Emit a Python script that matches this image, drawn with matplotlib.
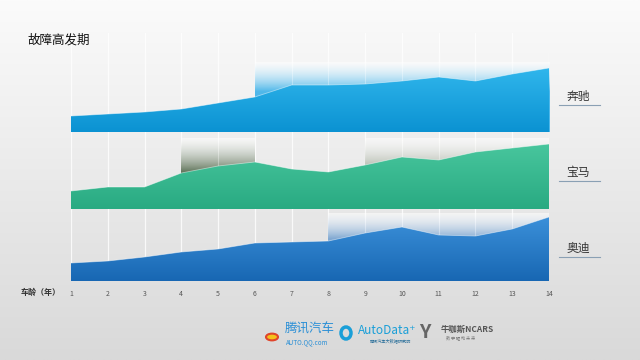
import numpy as np
import matplotlib
matplotlib.use("Agg")
import matplotlib.pyplot as plt
from matplotlib.colors import to_rgb

plt.rcParams['font.family'] = ['Noto Sans CJK SC', 'DejaVu Sans']

# ---------------- data ----------------
years = [1, 2, 3, 4, 5, 6, 7, 8, 9, 10, 11, 12, 13, 14]
brands = ["奔驰", "宝马", "奥迪"]
benz = [16, 18, 20, 23, 29, 35, 47, 47, 48, 51, 55, 51, 58, 64]
bmw = [18, 22, 22, 36, 43, 47, 40, 37, 44, 52, 49, 57, 61, 65]
audi = [18, 20, 24, 29, 32, 38, 39, 40, 48, 54, 46, 45, 52, 64]
series = [benz, bmw, audi]
# high-failure periods (start year, end year) per brand
peaks = [[(6, 14)], [(4, 6), (9, 14)], [(8, 14)]]
title = "故障高发期"
xlabel = "车龄（年）"

# ---------------- style ----------------
W, H = 640, 360
fig = plt.figure(figsize=(6.4, 3.6), dpi=100)

def rect(x0, y0, x1, y1):
    return [x0 / W, 1 - y1 / H, (x1 - x0) / W, (y1 - y0) / H]

# background gradient
bg = fig.add_axes([0, 0, 1, 1], zorder=-10)
g = np.linspace(0, 1, 256)[:, None]
top_c = np.array(to_rgb("#fbfbfb"))
bot_c = np.array(to_rgb("#d9d9d9"))
img = top_c[None, None, :] * (1 - g[..., None]) + bot_c[None, None, :] * g[..., None]
img = np.repeat(img, 2, axis=1)
bg.imshow(img, aspect='auto', extent=[0, 1, 0, 1])
bg.axis('off')

X0, X1 = 71, 549
# vertical grid lines
gax = fig.add_axes(rect(X0, 33, X1, 281), zorder=-5)
gax.set_xlim(1, 14)
gax.set_ylim(0, 1)
for yr in years:
    gax.axvline(yr, color="white", lw=0.9, alpha=0.8)
gax.axis('off')
gax.patch.set_alpha(0)

panels = [(62, 132), (138, 209), (213, 281)]
fills = [("#30b6ec", "#0b92d2"), ("#48c69d", "#29aa82"), ("#3b90d9", "#1867b3")]
hl_colors = [["#4fb8ea"], ["#556b4f", "#a9b0a2"], ["#7fa8d2"]]
hl_depth = [[0.42], [0.5, 0.45], [0.38]]
label_y = [96, 172, 248]

for i, (py0, py1) in enumerate(panels):
    ax = fig.add_axes(rect(X0, py0, X1, py1))
    ymax = py1 - py0
    ax.set_xlim(1, 14)
    ax.set_ylim(0, ymax)
    ax.patch.set_alpha(0)
    ax.axis('off')
    # highlight gradients (white at top, coloured toward the area)
    for (a, b), hc, dp in zip(peaks[i], hl_colors[i], hl_depth[i]):
        c = np.array(to_rgb(hc))
        n = 200
        t = np.clip(np.linspace(0, 1, n) / dp, 0, 1) ** 1.2
        arr = np.zeros((n, 2, 4))
        arr[..., :3] = (np.ones(3) * (1 - t[:, None]) + c * t[:, None])[:, None, :]
        arr[..., 3] = (0.55 + 0.45 * t)[:, None]
        ax.imshow(arr, extent=[a, b, 0, ymax], aspect='auto', origin='upper', zorder=1)
        for yr in years:
            if a < yr < b:
                ax.axvline(yr, color="white", lw=0.8, alpha=0.3, zorder=1.5)
    # area with vertical gradient
    poly = ax.fill_between(years, 0, series[i], color='none', lw=0)
    ct = np.array(to_rgb(fills[i][0]))
    cb = np.array(to_rgb(fills[i][1]))
    gg = np.linspace(0, 1, 200)[:, None, None]
    garr = ct * (1 - gg) + cb * gg
    garr = np.repeat(garr, 2, axis=1)
    im = ax.imshow(garr, extent=[1, 14, 0, max(series[i])], aspect='auto', origin='upper', zorder=2)
    im.set_clip_path(poly.get_paths()[0], transform=ax.transData)
    ax.plot(years, series[i], color="white", lw=0.6, alpha=0.5, zorder=3)
    # brand label
    fig.text(578 / W, 1 - label_y[i] / H, brands[i], ha='center', va='center',
             fontsize=8.5, color="#333333")
    fig.add_artist(plt.Line2D([559 / W, 600 / W], [1 - (label_y[i] + 9) / H] * 2,
                              color="#8aa0b4", lw=0.8))

# x tick labels
tax = fig.add_axes(rect(X0, 281, X1, 282))
tax.set_xlim(1, 14)
tax.set_yticks([])
tax.set_xticks(years)
tax.set_xticklabels([str(v) for v in years], fontsize=5, color="#555555")
tax.tick_params(axis='x', length=0, pad=6)
for s in tax.spines.values():
    s.set_visible(False)
tax.patch.set_alpha(0)

fig.text(41 / W, 1 - 292 / H, xlabel, ha='center', va='center', fontsize=5.8,
         color="#333333", fontweight='bold')
fig.text(27 / W, 1 - 40 / H, title, ha='left', va='center', fontsize=9, color="#111111")

# logos (approximated as text)
fig.text(285 / W, 1 - 329 / H, "腾讯汽车", ha='left', va='center', fontsize=9,
         color="#2a8fd6", style='italic')
fig.text(286 / W, 1 - 342 / H, "AUTO.QQ.com", ha='left', va='center', fontsize=4.5,
         color="#2a8fd6", style='italic')
fig.add_artist(matplotlib.patches.Circle((272 / W, 1 - 337 / H), 6 / W, transform=fig.transFigure,
                                         facecolor="#f4c21b", edgecolor="#e0452b", lw=1.5))
fig.add_artist(matplotlib.patches.Ellipse((346 / W, 1 - 333 / H), 10 / W, 12 / H, transform=fig.transFigure,
                                          facecolor="none", edgecolor="#1a9fd8", lw=2.5))
fig.text(358 / W, 1 - 330 / H, "AutoData⁺", ha='left', va='center', fontsize=8.5,
         color="#1a9fd8")
fig.text(370 / W, 1 - 341 / H, "腾讯汽车大数据研究院", ha='left', va='center', fontsize=3,
         color="#2a6f9a")
fig.text(425 / W, 1 - 332 / H, "Y", ha='center', va='center', fontsize=14,
         color="#666666", fontweight='bold')
fig.text(441 / W, 1 - 329 / H, "牛咖斯NCARS", ha='left', va='center', fontsize=6,
         color="#555555", fontweight='bold')
fig.text(446 / W, 1 - 338 / H, "数 字 驱 动 未 来", ha='left', va='center', fontsize=3,
         color="#777777")

fig.savefig("out.png", dpi=100)
